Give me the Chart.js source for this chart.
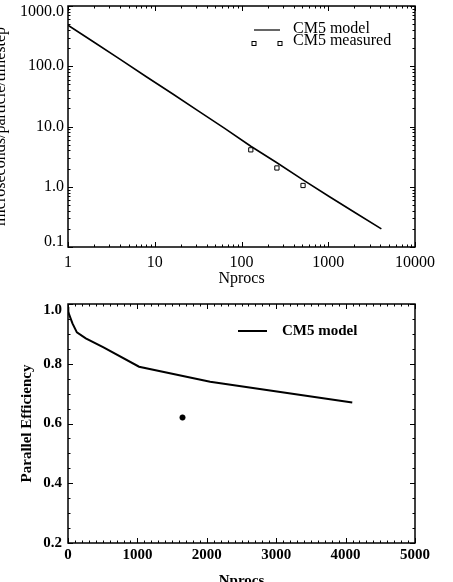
<!DOCTYPE html>
<html>
<head>
<meta charset="utf-8">
<script src="https://cdn.jsdelivr.net/npm/chart.js@4.4.0/dist/chart.umd.min.js"></script>
<style>
  html, body { margin: 0; padding: 0; background: #fff; }
  #wrap { position: relative; width: 453px; height: 582px; overflow: hidden; }
  #topChart { position: absolute; left: 0; top: 0; }
  #bottomChart { position: absolute; left: 0; top: 290px; }
</style>
</head>
<body>
<div id="wrap">
  <canvas id="topChart" width="453" height="290"></canvas>
  <canvas id="bottomChart" width="453" height="292"></canvas>
</div>
<script>
// processor counts used by the model curves
const nprocs = [1, 2, 4, 8, 16, 32, 64, 128, 256, 512, 1024, 2048, 4096];

// top panel: time per particle per step
const modelTime = [480, 250, 130, 67, 35, 18, 9.3, 4.7, 2.5, 1.3, 0.69, 0.37, 0.2];
const measuredProcs = [128, 256, 512];
const measuredTime = [4.1, 2.05, 1.05];

// bottom panel: parallel efficiency
const modelEff = [0.99, 0.985, 0.98, 0.975, 0.965, 0.955, 0.935, 0.905, 0.885, 0.855, 0.79, 0.74, 0.67];
const starProcs = [1650];
const starEff = [0.62];

// tick labels
const logProcTicks = [1, 10, 100, 1000, 10000];
const timeTicks = [0.1, 1, 10, 100, 1000];
const linProcTicks = [0, 1000, 2000, 3000, 4000, 5000];
const effTicks = [0.2, 0.4, 0.6, 0.8, 1.0];

const SERIF = "'Liberation Serif', 'Times New Roman', serif";

const toPoints = (xs, ys) => xs.map((x, i) => ({ x: x, y: ys[i] }));

const logMinors = (lo, hi) => {
  const out = [];
  for (let e = Math.round(Math.log10(lo)); e < Math.round(Math.log10(hi)); e++) {
    for (let k = 2; k <= 9; k++) out.push(k * Math.pow(10, e));
  }
  return out;
};
const linSteps = (lo, hi, step) => {
  const out = [];
  for (let v = lo; v <= hi + step / 2; v += step) out.push(v);
  return out;
};

// box round the plot with inward ticks on all four sides
const framePlugin = {
  id: 'frame',
  afterDatasetsDraw(chart, args, opts) {
    const { ctx, chartArea: a } = chart;
    const x = chart.scales.x, y = chart.scales.y;
    ctx.save();
    ctx.strokeStyle = '#000';
    ctx.lineWidth = 1;
    const xt = (vals, len) => vals.forEach(v => {
      const p = Math.round(x.getPixelForValue(v)) + 0.5;
      ctx.beginPath();
      ctx.moveTo(p, a.bottom); ctx.lineTo(p, a.bottom - len);
      ctx.moveTo(p, a.top); ctx.lineTo(p, a.top + len);
      ctx.stroke();
    });
    const yt = (vals, len) => vals.forEach(v => {
      const p = Math.round(y.getPixelForValue(v)) + 0.5;
      ctx.beginPath();
      ctx.moveTo(a.left, p); ctx.lineTo(a.left + len, p);
      ctx.moveTo(a.right, p); ctx.lineTo(a.right - len, p);
      ctx.stroke();
    });
    xt(opts.xMajor, 5); xt(opts.xMinor, 2.5);
    yt(opts.yMajor, 5); yt(opts.yMinor, 2.5);
    ctx.lineWidth = 1.5;
    ctx.strokeRect(a.left, a.top, a.right - a.left, a.bottom - a.top);
    ctx.restore();
  }
};

// hand drawn legend in the IDL style
const keyPlugin = {
  id: 'key',
  afterDraw(chart, args, opts) {
    const ctx = chart.ctx;
    ctx.save();
    ctx.fillStyle = '#000';
    ctx.strokeStyle = '#000';
    ctx.font = opts.font;
    ctx.textBaseline = 'alphabetic';
    opts.items.forEach(it => {
      if (it.kind === 'line') {
        ctx.lineWidth = it.width;
        ctx.beginPath();
        ctx.moveTo(it.x0, it.sy); ctx.lineTo(it.x1, it.sy);
        ctx.stroke();
      } else {
        ctx.lineWidth = 1;
        [it.x0, it.x1].forEach(cx => ctx.strokeRect(cx - 2, it.sy - 2, 4, 4));
      }
      ctx.fillText(it.text, it.tx, it.ty);
    });
    ctx.restore();
  }
};

new Chart(document.getElementById('topChart'), {
  type: 'scatter',
  data: {
    datasets: [{
      label: 'CM5 model',
      data: toPoints(nprocs, modelTime),
      showLine: true,
      borderColor: '#000',
      borderWidth: 1.6,
      pointRadius: 0,
      tension: 0
    }, {
      label: 'CM5 measured',
      data: toPoints(measuredProcs, measuredTime),
      showLine: false,
      pointStyle: 'rect',
      pointRadius: 3,
      borderColor: '#000',
      backgroundColor: '#fff',
      borderWidth: 1
    }]
  },
  options: {
    responsive: false,
    animation: false,
    layout: { padding: { top: 6, right: 38, left: 0, bottom: 0 } },
    plugins: {
      legend: { display: false },
      tooltip: { enabled: false },
      frame: { xMajor: logProcTicks, xMinor: logMinors(1, 10000), yMajor: timeTicks, yMinor: logMinors(0.1, 1000) },
      key: {
        font: '16px ' + SERIF,
        items: [
          { kind: 'line', width: 1.2, x0: 254, x1: 280, sy: 30, text: 'CM5 model', tx: 293, ty: 33 },
          { kind: 'squares', x0: 254, x1: 280, sy: 43.5, text: 'CM5 measured', tx: 293, ty: 45 }
        ]
      }
    },
    scales: {
      x: {
        type: 'logarithmic',
        min: 1,
        max: 10000,
        afterBuildTicks: s => { s.ticks = logProcTicks.map(v => ({ value: v })); },
        afterFit: s => { s.height = 43; s.paddingLeft = 0; s.paddingRight = 0; },
        ticks: {
          callback: v => String(v),
          color: '#000',
          font: { family: SERIF, size: 16 },
          padding: 6,
          maxRotation: 0,
          autoSkip: false
        },
        grid: { display: false, drawTicks: false },
        border: { display: false },
        title: {
          display: true,
          text: 'Nprocs',
          color: '#000',
          font: { family: SERIF, size: 16 },
          padding: { top: 0, bottom: 2 }
        }
      },
      y: {
        type: 'logarithmic',
        min: 0.1,
        max: 1000,
        afterBuildTicks: s => { s.ticks = timeTicks.map(v => ({ value: v })); },
        afterFit: s => { s.width = 68; s.paddingTop = 0; s.paddingBottom = 0; },
        ticks: {
          callback: v => {
            const t = Number(v).toFixed(1);
            if (v >= 1000) return ['', t];
            if (v <= 0.1) return [t, ''];
            return t;
          },
          color: '#000',
          font: { family: SERIF, size: 16, lineHeight: 0.7 },
          padding: 4,
          autoSkip: false
        },
        grid: { display: false, drawTicks: false },
        border: { display: false },
        title: {
          display: true,
          text: 'microseconds/particle/timestep',
          color: '#000',
          font: { family: SERIF, size: 16 },
          padding: { top: -9, bottom: 0 }
        }
      }
    }
  },
  plugins: [framePlugin, keyPlugin]
});

new Chart(document.getElementById('bottomChart'), {
  type: 'scatter',
  data: {
    datasets: [{
      label: 'CM5 model',
      data: toPoints(nprocs, modelEff),
      showLine: true,
      borderColor: '#000',
      borderWidth: 2,
      pointRadius: 0,
      tension: 0
    }, {
      label: 'point',
      data: toPoints(starProcs, starEff),
      showLine: false,
      pointStyle: 'star',
      pointRadius: 3,
      borderColor: '#000',
      borderWidth: 2
    }]
  },
  options: {
    responsive: false,
    animation: false,
    layout: { padding: { top: 14, right: 38, left: 0, bottom: 0 } },
    plugins: {
      legend: { display: false },
      tooltip: { enabled: false },
      frame: { xMajor: linProcTicks, xMinor: linSteps(0, 5000, 100), yMajor: effTicks, yMinor: linSteps(0.2, 1.0, 0.05) },
      key: {
        font: 'bold 15px ' + SERIF,
        items: [
          { kind: 'line', width: 2, x0: 238, x1: 267, sy: 41, text: 'CM5 model', tx: 282, ty: 45 }
        ]
      }
    },
    scales: {
      x: {
        type: 'linear',
        min: 0,
        max: 5000,
        afterBuildTicks: s => { s.ticks = linProcTicks.map(v => ({ value: v })); },
        afterFit: s => { s.height = 39; s.paddingLeft = 0; s.paddingRight = 0; },
        ticks: {
          callback: v => String(v),
          color: '#000',
          font: { family: SERIF, size: 15, weight: 'bold' },
          padding: 3,
          maxRotation: 0,
          autoSkip: false
        },
        grid: { display: false, drawTicks: false },
        border: { display: false },
        title: {
          display: true,
          text: 'Nprocs',
          color: '#000',
          font: { family: SERIF, size: 15, weight: 'bold' },
          padding: { top: 0, bottom: -8 }
        }
      },
      y: {
        type: 'linear',
        min: 0.2,
        max: 1.0,
        afterBuildTicks: s => { s.ticks = effTicks.map(v => ({ value: v })); },
        afterFit: s => { s.width = 68; s.paddingTop = 0; s.paddingBottom = 0; },
        ticks: {
          callback: v => {
            const t = Number(v).toFixed(1);
            return v >= 1.0 ? ['', t] : t;
          },
          color: '#000',
          font: { family: SERIF, size: 15, weight: 'bold', lineHeight: 0.87 },
          padding: 6,
          autoSkip: false
        },
        grid: { display: false, drawTicks: false },
        border: { display: false },
        title: {
          display: true,
          text: 'Parallel Efficiency',
          color: '#000',
          font: { family: SERIF, size: 15, weight: 'bold' },
          padding: { top: 18, bottom: 0 }
        }
      }
    }
  },
  plugins: [framePlugin, keyPlugin]
});
</script>
</body>
</html>
